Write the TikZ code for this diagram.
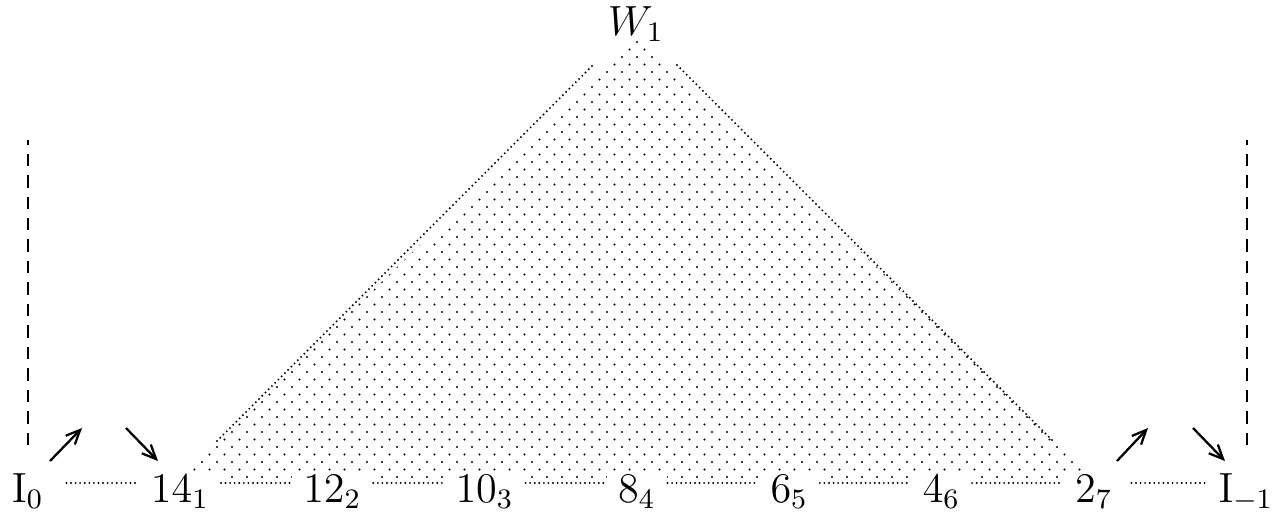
\documentclass[tikz,border=0pt]{standalone}
\usepackage{tikz}
\usetikzlibrary{arrows.meta, positioning, calc}

\tikzset{
  lbl/.style={anchor=base, fill=white, inner xsep=3.2pt, inner ysep=0.5pt,
              font=\fontsize{11.7pt}{14pt}\selectfont},
  toplbl/.style={anchor=base, inner sep=0pt, font=\fontsize{11.7pt}{14pt}\selectfont},
  dotline/.style={line width=0.6pt, line cap=round, dash pattern=on 0pt off 1.3pt},
  dashline/.style={line width=0.65pt, dash pattern=on 3.55pt off 2.55pt},
  vec/.style={-{Straight Barb[length=4pt, width=3.6pt, line width=0.65pt]}, line width=0.65pt}
}

\begin{document}
\begin{tikzpicture}[x=0.01cm, y=-0.01cm]
  \useasboundingbox (0,0) rectangle (1287,521);

  % dotted area of the triangle
  \begin{scope}
    \clip (637,36) -- (176,480) -- (1098,480) -- cycle;
    \foreach \j in {0,...,58}{
      \pgfmathtruncatemacro{\k}{(\j*7.5+8)/14+1}
      \pgfmathsetmacro{\off}{mod(\j,2)*7.5}
      \foreach \i in {-\k,...,\k}
        \fill (637+\off+15*\i, 42+7.5*\j) circle (0.34pt);
    }
  \end{scope}

  % sides of the triangle
  \draw[dotline] (217,441) -- (593,65);
  \draw[dotline] (677,65) -- (1053,441);

  % top label
  \node[toplbl] (w1) at (636,35) {$W_1$};

  % bottom labels
  \node[lbl] (i0)  at (27.7,502)   {$\mathrm{I}_0$};
  \node[lbl] (n14) at (180,502)    {$14_1$};
  \node[lbl] (n12) at (332.3,502)  {$12_2$};
  \node[lbl] (n10) at (484.6,502)  {$10_3$};
  \node[lbl] (n8)  at (636.9,502)  {$8_4$};
  \node[lbl] (n6)  at (789.2,502)  {$6_5$};
  \node[lbl] (n4)  at (941.5,502)  {$4_6$};
  \node[lbl] (n2)  at (1093.8,502) {$2_7$};
  \node[lbl] (im1) at (1246,502)   {$\mathrm{I}_{-1}$};

  % dotted base
  \draw[dotline, shorten <=0.11cm] ([yshift=0.19cm]i0.base east)  -- ([yshift=0.19cm]n14.base west);
  \draw[dotline] ([yshift=0.19cm]n14.base east) -- ([yshift=0.19cm]n12.base west);
  \draw[dotline] ([yshift=0.19cm]n12.base east) -- ([yshift=0.19cm]n10.base west);
  \draw[dotline] ([yshift=0.19cm]n10.base east) -- ([yshift=0.19cm]n8.base west);
  \draw[dotline] ([yshift=0.19cm]n8.base east)  -- ([yshift=0.19cm]n6.base west);
  \draw[dotline] ([yshift=0.19cm]n6.base east)  -- ([yshift=0.19cm]n4.base west);
  \draw[dotline] ([yshift=0.19cm]n4.base east)  -- ([yshift=0.19cm]n2.base west);
  \draw[dotline, shorten <=0.07cm] ([yshift=0.19cm]n2.base east)  -- ([yshift=0.19cm]im1.base west);

  % dashed walls
  \coordinate (wl0) at (28,445);
  \coordinate (wl1) at (28,140);
  \coordinate (wr0) at (1247,445);
  \coordinate (wr1) at (1247,140);
  \draw[dashline] (wl0) -- (wl1);
  \draw[dashline] (wr0) -- (wr1);

  % arrows
  \coordinate (al0) at (50,461);
  \coordinate (al1) at (82,428);
  \coordinate (al2) at (126,428);
  \coordinate (al3) at (158,461);
  \coordinate (ar0) at (1117,461);
  \coordinate (ar1) at (1148,428);
  \coordinate (ar2) at (1193,428);
  \coordinate (ar3) at (1225,461);
  \draw[vec] (al0) -- (al1);
  \draw[vec] (al2) -- (al3);
  \draw[vec] (ar0) -- (ar1);
  \draw[vec] (ar2) -- (ar3);

\end{tikzpicture}
\end{document}
